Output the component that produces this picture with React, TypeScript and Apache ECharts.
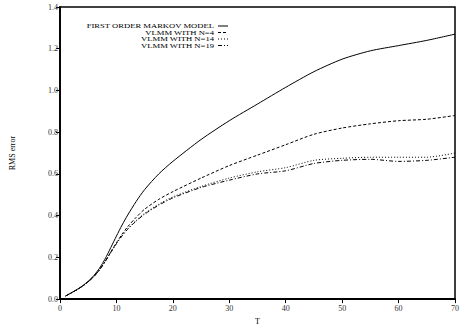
import React, { useEffect, useRef } from "react";
import * as echarts from "echarts";

const tValues = [1, 2, 3, 4, 5, 6, 7, 8, 9, 10, 11, 12, 13.5, 15, 17.5, 20, 25, 30, 35, 40, 45, 50, 55, 60, 65, 70];
const firstOrder = [0.015, 0.03, 0.046, 0.064, 0.086, 0.113, 0.148, 0.193, 0.247, 0.302, 0.355, 0.403, 0.468, 0.525, 0.6, 0.66, 0.765, 0.855, 0.935, 1.015, 1.09, 1.15, 1.19, 1.215, 1.24, 1.27];
const vlmm4 = [0.015, 0.03, 0.045, 0.062, 0.083, 0.108, 0.14, 0.18, 0.226, 0.27, 0.311, 0.347, 0.392, 0.431, 0.478, 0.515, 0.58, 0.64, 0.69, 0.74, 0.79, 0.82, 0.84, 0.855, 0.862, 0.88];
const vlmm14 = [0.015, 0.03, 0.045, 0.062, 0.083, 0.108, 0.14, 0.18, 0.224, 0.266, 0.304, 0.337, 0.377, 0.411, 0.455, 0.49, 0.54, 0.58, 0.61, 0.63, 0.665, 0.675, 0.68, 0.68, 0.68, 0.7];
const vlmm19 = [0.015, 0.03, 0.045, 0.062, 0.083, 0.108, 0.14, 0.18, 0.224, 0.266, 0.303, 0.335, 0.374, 0.407, 0.45, 0.485, 0.535, 0.57, 0.6, 0.615, 0.65, 0.665, 0.67, 0.66, 0.665, 0.68];
const seriesNames = ["FIRST ORDER MARKOV MODEL", "VLMM WITH N=4", "VLMM WITH N=14", "VLMM WITH N=19"];
const xTicks = [0, 10, 20, 30, 40, 50, 60, 70];

const FONT = "'Liberation Serif', 'Times New Roman', serif";
const dashes: (number[] | null)[] = [null, [3, 2], [1, 2], [4, 2, 1, 2]];

export default function App() {
  const ref = useRef<HTMLDivElement>(null);
  useEffect(() => {
    if (!ref.current) return;
    const chart = echarts.init(ref.current, null, { renderer: "svg" });
    const all = [firstOrder, vlmm4, vlmm14, vlmm19];
    const series = all.map((vals, i) => ({
      name: seriesNames[i],
      type: "line",
      data: tValues.map((t, k) => [t, vals[k]]),
      smooth: 0.25,
      showSymbol: false,
      lineStyle: { color: "#000", width: 1, type: dashes[i] ? dashes[i] : "solid" },
    }));
    const legendRows = [26, 32.5, 39, 45.5];
    const graphic: any[] = [];
    seriesNames.forEach((n, i) => {
      graphic.push({
        type: "text",
        x: 214,
        y: legendRows[i],
        scaleX: 1.23,
        scaleY: 1,
        style: { text: n, fontSize: 7, fontFamily: FONT, fill: "#000", align: "right", verticalAlign: "middle" },
      });
      graphic.push({
        type: "line",
        shape: { x1: 218, y1: legendRows[i], x2: 228, y2: legendRows[i] },
        style: { stroke: "#000", lineWidth: 1, lineDash: dashes[i] || undefined },
      });
    });
    chart.setOption({
      animation: false,
      grid: { left: 60, right: 3, top: 7, bottom: 23, show: true, borderColor: "#000", borderWidth: 1.5, containLabel: false },
      xAxis: {
        type: "value",
        min: xTicks[0],
        max: xTicks[xTicks.length - 1],
        interval: 10,
        name: "T",
        nameLocation: "middle",
        nameGap: 16,
        nameTextStyle: { fontFamily: FONT, fontSize: 8, color: "#000" },
        axisLine: { lineStyle: { color: "#000", width: 1.8 } },
        axisTick: { inside: false, length: 4, lineStyle: { color: "#000" } },
        axisLabel: { fontFamily: FONT, fontSize: 8, color: "#333", margin: 5 },
        splitLine: { show: false },
      },
      yAxis: {
        type: "value",
        min: 0,
        max: 1.4,
        interval: 0.2,
        name: "RMS error",
        nameLocation: "middle",
        nameGap: 44,
        nameTextStyle: { fontFamily: FONT, fontSize: 8, color: "#000" },
        axisLine: { show: true, lineStyle: { color: "#000", width: 1.8 } },
        axisTick: { show: true, inside: false, length: 4, lineStyle: { color: "#000" } },
        axisLabel: { fontFamily: FONT, fontSize: 8, color: "#333", margin: 2, formatter: (v: number) => v.toFixed(1) },
        splitLine: { show: false },
      },
      series,
      graphic,
    });
    return () => chart.dispose();
  }, []);
  return <div ref={ref} style={{ width: 462, height: 330, position: "absolute", left: 0, top: 0 }} />;
}
